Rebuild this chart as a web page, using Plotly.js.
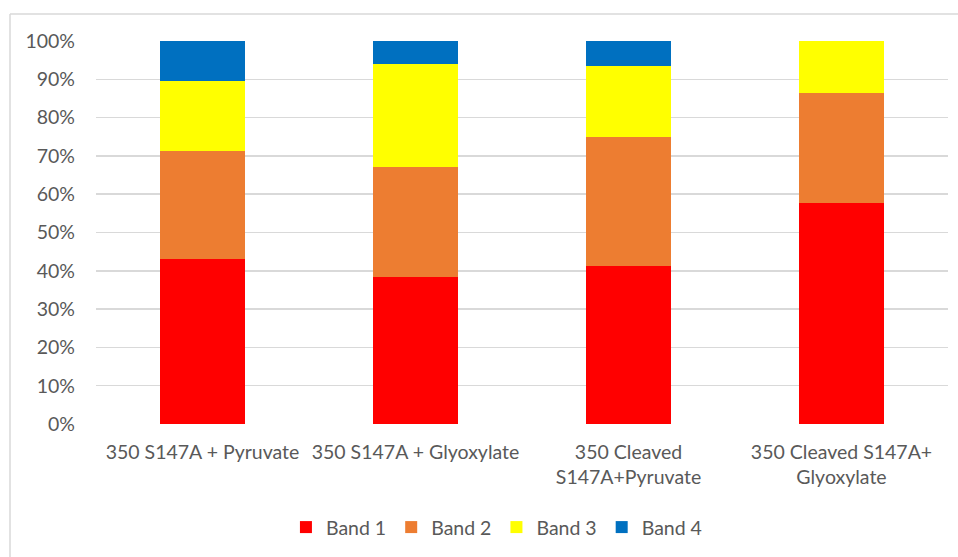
<!DOCTYPE html>
<html>
<head>
<meta charset="utf-8">
<script src="https://cdn.plot.ly/plotly-3.0.1.min.js"></script>
<style>
  html, body { margin: 0; padding: 0; background: #ffffff; }
  #chart { width: 958px; height: 557px; }
</style>
</head>
<body>
<div id="chart"></div>
<script>
// Sample conditions along the x axis
const categories = [
  "350 S147A + Pyruvate",
  "350 S147A + Glyoxylate",
  "350 Cleaved<br>S147A+Pyruvate",
  "350 Cleaved S147A+<br>Glyoxylate"
];

// Share of each band per sample (percent of lane total)
const band1 = [43.2, 38.4, 41.3, 57.6];
const band2 = [28.1, 28.8, 33.6, 28.7];
const band3 = [18.3, 26.8, 18.7, 13.7];
const band4 = [10.4, 6.0, 6.4, 0.0];

const seriesNames = ["Band 1", "Band 2", "Band 3", "Band 4"];
const seriesColors = ["#FF0000", "#ED7D31", "#FFFF00", "#0070C0"];
const seriesValues = [band1, band2, band3, band4];

const yTickVals = [0, 10, 20, 30, 40, 50, 60, 70, 80, 90, 100];

const fontFamily = "Lato, 'Open Sans', sans-serif";
const textColor = "#595959";
const gridColor = "#D9D9D9";
const fontSize = 19.5;

const traces = seriesValues.map((vals, i) => ({
  type: "bar",
  name: seriesNames[i],
  x: categories,
  y: vals,
  marker: { color: seriesColors[i], line: { width: 0 } },
  hoverinfo: "skip"
}));

const layout = {
  width: 958,
  height: 557,
  barmode: "stack",
  barnorm: "percent",
  bargap: 0.6,
  paper_bgcolor: "#ffffff",
  plot_bgcolor: "#ffffff",
  margin: { l: 96, r: 10, t: 41, b: 133, pad: 0 },
  font: { family: fontFamily, size: fontSize, color: textColor },
  showlegend: true,
  legend: {
    orientation: "h",
    x: 0.47,
    xanchor: "center",
    y: -0.27,
    yanchor: "middle",
    itemwidth: 30,
    font: { family: fontFamily, size: fontSize, color: textColor },
    traceorder: "normal",
    itemclick: false,
    itemdoubleclick: false
  },
  xaxis: {
    type: "category",
    showgrid: false,
    showline: false,
    zeroline: false,
    ticks: "",
    ticklabelstandoff: 14,
    tickfont: { family: fontFamily, size: fontSize, color: textColor },
    fixedrange: true
  },
  yaxis: {
    range: [0, 100],
    tickvals: yTickVals,
    ticktext: yTickVals.map(v => v + "%"),
    showgrid: true,
    gridcolor: gridColor,
    gridwidth: 1.5,
    zeroline: false,
    showline: false,
    ticks: "",
    ticklabelstandoff: 20,
    tickfont: { family: fontFamily, size: fontSize, color: textColor },
    fixedrange: true
  },
  shapes: [
    // chart area frame: top and left edges
    { type: "line", xref: "paper", yref: "paper",
      x0: -86 / 852, x1: 1.02, y0: 410 / 383, y1: 410 / 383,
      line: { color: gridColor, width: 1.5 } },
    { type: "line", xref: "paper", yref: "paper",
      x0: -86 / 852, x1: -86 / 852, y0: 410 / 383, y1: -0.36,
      line: { color: gridColor, width: 1.5 } }
  ]
};

Plotly.newPlot("chart", traces, layout, { displayModeBar: false, staticPlot: true });
</script>
</body>
</html>
